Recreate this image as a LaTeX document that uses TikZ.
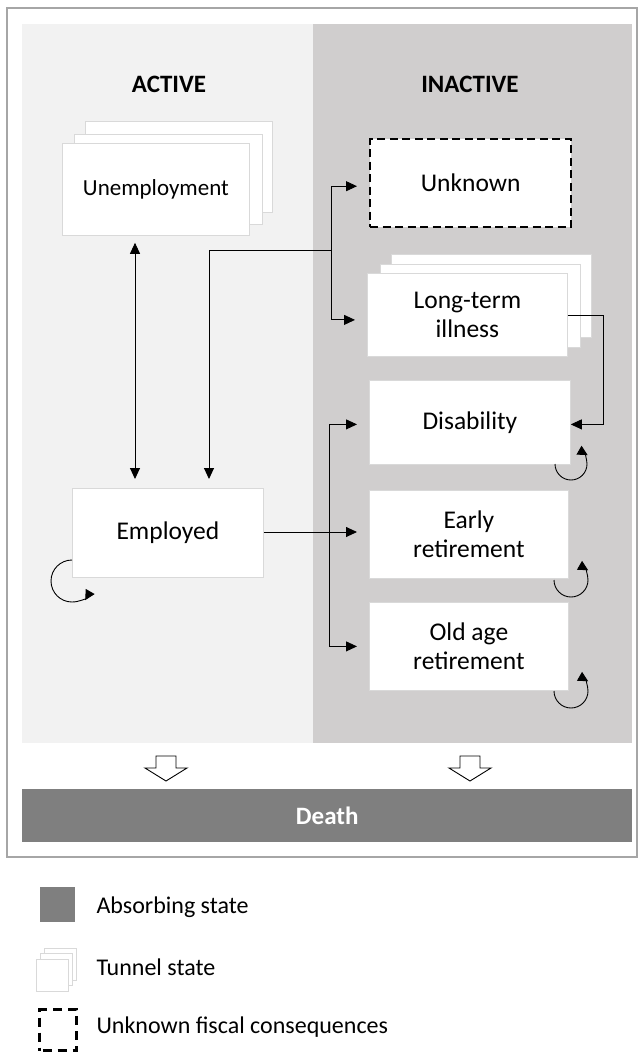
\documentclass[tikz,border=0pt]{standalone}
\usepackage{fontspec}
\setmainfont{Carlito}
\usetikzlibrary{arrows.meta}
\definecolor{actbg}{HTML}{F2F2F2}
\definecolor{inactbg}{HTML}{D0CECE}
\definecolor{boxline}{HTML}{D9D9D9}
\definecolor{deathgray}{HTML}{7F7F7F}
\definecolor{framegray}{HTML}{A6A6A6}
\begin{document}
\begin{tikzpicture}[x=1pt,y=-1pt,
  txt/.style={font=\fontsize{25.5}{29}\selectfont, align=center},
  statebox/.style={txt, draw=boxline, line width=0.8pt, fill=white, anchor=north west, inner sep=0pt},
  ghost/.style={draw=boxline, line width=0.8pt, fill=white, anchor=north west, inner sep=0pt},
  tip/.style={-{Triangle[length=11pt,width=10pt]}},
  conn/.style={line width=0.9pt, tip},
  gapconn/.style={conn, shorten >=12pt},
  dconn/.style={line width=0.9pt, {Triangle[length=11pt,width=10pt]}-{Triangle[length=11pt,width=10pt]}, shorten <=7pt, shorten >=9pt},
  selfloop/.style={line width=0.9pt, -{Triangle[reversed,length=10pt,width=10pt]}},
  head/.style={font=\fontsize{25}{29}\selectfont\bfseries},
  legtxt/.style={font=\fontsize{24}{28}\selectfont, anchor=west},
  blockarrow/.style={draw=black, line width=0.9pt, fill=white}
]
\useasboundingbox (0,0) rectangle (644,1063);
\fill[white] (0,0) rectangle (644,1063);
% frame and panels
\draw[framegray, line width=1.2pt] (7,8) rectangle (637,857);
\fill[actbg] (22,24) rectangle (313,743);
\fill[inactbg] (313,24) rectangle (632,743);
\node[head] (hact) at (169,84) {ACTIVE};
\node[head] (hinact) at (470,84) {INACTIVE};

% Unemployment (tunnel)
\node[ghost, minimum width=187pt, minimum height=91pt] (unbk) at (85,121) {};
\node[ghost, minimum width=188pt, minimum height=90pt] (unmd) at (74,134) {};
\node[statebox, minimum width=187pt, minimum height=92pt, font=\fontsize{23}{27}\selectfont] (unem) at (62,143) {Unemployment};

% Unknown
\node[txt, draw=black, dash pattern=on 8pt off 4.5pt, line width=2.4pt, fill=white, anchor=north west, inner sep=0pt,
      minimum width=201pt, minimum height=88pt] (unk) at (369,138) {Unknown};

% Long-term illness (tunnel)
\node[ghost, minimum width=200pt, minimum height=83pt] (ltbk) at (391,254) {};
\node[ghost, minimum width=200pt, minimum height=83pt] (ltmd) at (380,264) {};
\node[statebox, minimum width=200pt, minimum height=83pt] (lti) at (367,273) {Long-term\\illness};

% Inactive states
\node[statebox, minimum width=201pt, minimum height=84pt] (dis) at (369,380) {Disability};
\node[statebox, minimum width=199pt, minimum height=88pt] (early) at (369,490) {Early\\retirement};
\node[statebox, minimum width=199pt, minimum height=88pt] (old) at (369,602) {Old age\\retirement};

% Employed
\node[statebox, minimum width=191pt, minimum height=89pt] (emp) at (72,488) {Employed};

% helper coordinates
\coordinate (v1) at (135,0);
\coordinate (v2) at (209,0);
\coordinate (t1) at (331,250);
\coordinate (t2) at (329,532);
\coordinate (c3) at (603,0);

% connectors
\draw[dconn] (unem.south -| v1) -- (emp.north -| v1);
\draw[conn, shorten >=9pt] (t1) -| (emp.north -| v2);
\draw[gapconn] (t1) |- ([yshift=-3pt]unk.west);
\draw[gapconn] (t1) |- ([yshift=-5pt]lti.west);
\draw[gapconn] (emp.east |- t2) -- (t2 -| early.west);
\draw[gapconn] (t2) |- ([yshift=-2pt]dis.west);
\draw[gapconn] (t2) |- (old.west);
\draw[conn] ([yshift=-1pt]lti.east) -- ([yshift=-1pt]lti.east -| c3) |- ([yshift=-2pt]dis.east);

% self loops
\draw[selfloop] (72,560) arc[start angle=90, end angle=330, radius=21pt];
\draw[selfloop] (555,464) arc[start angle=180, end angle=420, radius=16pt];
\draw[selfloop] (554,580) arc[start angle=180, end angle=420, radius=17pt];
\draw[selfloop] (554,691) arc[start angle=180, end angle=420, radius=17pt];

% death
\node[fill=deathgray, anchor=north west, inner sep=0pt,
      minimum width=610pt, minimum height=53pt] (death) at (22,789) {};
\node[text=white, font=\fontsize{25}{29}\selectfont\bfseries] (deathlbl) at (death.center) {Death};
\foreach \cx in {166, 470}{
  \draw[blockarrow] (\cx-10,756) -- (\cx+10,756) -- (\cx+10,768) -- (\cx+21,768) -- (\cx,781)
     -- (\cx-21,768) -- (\cx-10,768) -- cycle;
}

% legend
\node[fill=deathgray, anchor=north west, inner sep=0pt, minimum width=35pt, minimum height=35pt] (lgabs) at (40,887) {};
\node[legtxt] (lgabst) at (93,907) {Absorbing state};
\node[ghost, minimum width=32pt, minimum height=32pt] (lgt3) at (44,948) {};
\node[ghost, minimum width=32pt, minimum height=32pt] (lgt2) at (40,953) {};
\node[ghost, minimum width=32pt, minimum height=32pt] (lgt1) at (36,959) {};
\node[legtxt] (lgtunt) at (93,967) {Tunnel state};
\node[draw=black, dash pattern=on 9pt off 6pt, dash phase=-3pt, line width=3pt, anchor=north west, inner sep=0pt,
      minimum width=37pt, minimum height=41pt] (lgunk) at (38,1008) {};
\node[legtxt] (lgunkt) at (93,1027) {Unknown fiscal consequences};
\end{tikzpicture}
\end{document}
